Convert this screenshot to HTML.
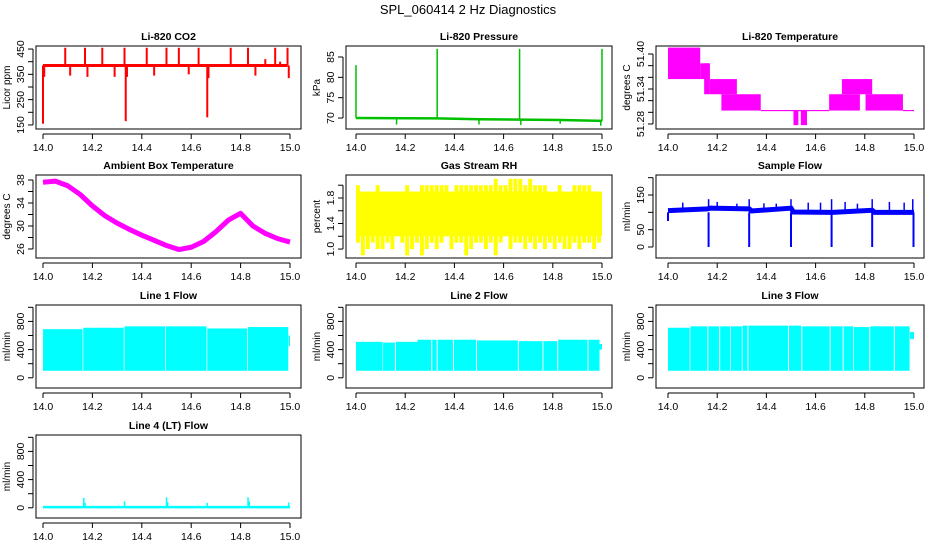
<!DOCTYPE html>
<html><head><meta charset="utf-8"><style>
html,body{margin:0;padding:0;background:#fff}
svg{display:block;font-family:"Liberation Sans",sans-serif}
</style></head><body>
<svg id="chart" width="936" height="540" viewBox="0 0 936 540" xmlns="http://www.w3.org/2000/svg">
<rect width="936" height="540" fill="#fff"/>
<text x="468" y="14" text-anchor="middle" font-size="13">SPL_060414  2 Hz Diagnostics</text>
</svg>
<script>
// ---------- data ----------
const xTicks = [14.0,14.2,14.4,14.6,14.8,15.0];
const xTickLabels = ["14.0","14.2","14.4","14.6","14.8","15.0"];
// CO2
const co2Base = 385;
const co2SpikeX = [14.0,14.005,14.09,14.11,14.17,14.18,14.24,14.29,14.33,14.335,14.34,14.42,14.45,14.5,14.55,14.59,14.63,14.665,14.67,14.76,14.83,14.86,14.9,14.94,14.96,14.99,14.995];
const co2SpikeY = [155,340,455,345,455,340,455,340,455,165,340,455,345,455,455,350,455,180,335,455,455,345,410,455,400,455,335];
// Pressure
const presBaseX = [14.0,14.33,14.5,14.67,14.83,15.0];
const presBaseY = [70.0,69.9,69.7,69.6,69.5,69.3];
const presSpikeX = [14.0,14.165,14.33,14.5,14.665,14.67,14.83,14.995,15.0];
const presSpikeY = [83,68.4,87,68.4,87,68.3,68.6,68.1,87];
// Li-820 temperature blocks
const tStart = [14.0,14.131,14.147,14.17,14.217,14.377,14.51,14.54,14.655,14.707,14.803,14.955];
const tEnd   = [14.131,14.17,14.17,14.28,14.377,14.655,14.53,14.565,14.78,14.83,14.955,15.0];
const tLo    = [51.357,51.357,51.331,51.331,51.303,51.302,51.278,51.278,51.303,51.331,51.303,51.302];
const tHi    = [51.411,51.384,51.384,51.357,51.331,51.304,51.304,51.304,51.331,51.357,51.331,51.304];
// Ambient box temperature
const ambX = [14.0,14.05,14.1,14.15,14.2,14.25,14.3,14.35,14.4,14.45,14.5,14.55,14.6,14.65,14.7,14.75,14.8,14.85,14.9,14.95,15.0];
const ambY = [37.6,37.8,37.0,35.5,33.5,31.8,30.5,29.4,28.4,27.5,26.6,25.9,26.3,27.3,29.0,31.0,32.2,30.0,28.7,27.8,27.2];
// Gas stream RH (binned min/max)
const rhLo = [1.1,0.9,1.0,1.1,1.0,1.0,1.1,1.0,1.2,1.1,0.9,1.0,1.1,0.9,1.0,1.1,1.0,1.1,1.2,1.0,1.1,1.1,0.9,1.0,1.1,1.1,1.0,1.1,0.9,1.1,1.2,1.0,1.1,1.1,1.0,1.1,1.0,1.1,1.0,1.1,1.0,1.1,1.0,1.0,1.1,1.0,1.1,1.1,1.0,1.1];
const rhHi = [2.0,1.9,1.9,1.9,2.0,1.9,1.9,1.9,1.9,1.9,2.0,1.9,1.9,2.0,2.0,2.0,2.0,2.0,2.0,1.9,2.0,2.0,2.0,2.0,2.0,2.0,2.0,2.0,2.1,2.0,2.0,2.1,2.1,2.1,2.0,2.1,2.0,2.0,2.0,1.9,1.9,2.0,1.9,1.9,2.0,2.0,2.0,2.0,1.9,1.9];
// Sample flow
const sfX = [14.0,14.16,14.17,14.33,14.34,14.5,14.51,14.66,14.67,14.83,14.84,15.0];
const sfY = [105,110,112,110,104,112,101,100,100,106,100,100];
const sfDropX = [14.0,14.165,14.33,14.5,14.665,14.83,14.998];
const sfDropY = [75,0,0,0,0,0,0];
const sfSpikeX = [14.06,14.165,14.2,14.28,14.33,14.39,14.44,14.5,14.57,14.62,14.665,14.72,14.77,14.83,14.9,14.96,14.995];
const sfSpikeY = [128,138,130,125,138,126,125,138,128,128,138,130,125,138,130,128,138];
// Line flows: blocks
const l1Start = [14.0,14.163,14.33,14.497,14.665,14.83,14.995];
const l1End   = [14.16,14.327,14.494,14.662,14.827,14.993,15.0];
const l1Lo    = [100,100,100,100,100,100,450];
const l1Hi    = [690,710,730,730,700,720,600];
const l2Start = [14.0,14.11,14.162,14.25,14.31,14.332,14.398,14.492,14.662,14.762,14.822,14.945,14.99];
const l2End   = [14.108,14.158,14.25,14.306,14.328,14.394,14.488,14.658,14.758,14.818,14.941,14.99,15.0];
const l2Lo    = [100,100,100,100,100,100,100,100,100,100,100,100,400];
const l2Hi    = [510,500,510,540,540,540,540,530,520,520,540,540,480];
const l3Start = [14.0,14.091,14.164,14.212,14.255,14.303,14.327,14.492,14.546,14.661,14.714,14.755,14.822,14.922,14.984];
const l3End   = [14.088,14.16,14.208,14.252,14.3,14.323,14.488,14.542,14.657,14.71,14.752,14.818,14.918,14.982,15.0];
const l3Lo    = [100,100,100,100,100,100,100,100,100,100,100,100,100,100,550];
const l3Hi    = [710,730,730,730,730,740,740,740,730,730,730,720,730,730,650];
const l4SpikeX = [14.165,14.17,14.33,14.5,14.505,14.665,14.83,14.835,14.995];
const l4SpikeY = [140,70,90,150,80,70,150,90,75];
const l4Base = 10;

// ---------- drawing ----------
const svg = document.getElementById('chart');
const NS = 'http://www.w3.org/2000/svg';
function mk(tag, attrs, parent){
  const e = document.createElementNS(NS, tag);
  for (const k in attrs) e.setAttribute(k, attrs[k]);
  (parent||svg).appendChild(e);
  return e;
}
const colBox = [[36,301,43,290],[346,612,356,602],[656,924,668,914]];
const rowTop = [46,175,305,435];
const BH = 83;

function panel(col,row,title,ylab,yMin,yMax,yTicks,yLabels,name){
  const [bl,br,x0,x1] = colBox[col];
  const top = rowTop[row], bot = top+BH;
  const g = mk('g',{});
  
  
  const X = v => x0 + (v-14)/(1)*(x1-x0);
  const Y = v => bot - (v-yMin)/(yMax-yMin)*BH;
  const data = mk('g',{},g);
  
  
  const box = mk('rect',{x:bl,y:top,width:br-bl,height:BH,fill:'none',stroke:'#000','stroke-width':1},g);
  
  
  const t = mk('text',{x:(bl+br)/2,y:top-6,'text-anchor':'middle','font-size':10.5,'font-weight':'bold'},g);
  t.textContent = title;
  
  
  const xa = mk('g',{},g);
  
  
  const ay = bot+5;
  mk('line',{x1:X(xTicks[0]),x2:X(xTicks[xTicks.length-1]),y1:ay,y2:ay,stroke:'#000'},xa);
  xTicks.forEach((v,i)=>{
    mk('line',{x1:X(v),x2:X(v),y1:ay,y2:ay+5,stroke:'#000'},xa);
    const tx = mk('text',{x:X(v),y:bot+22,'text-anchor':'middle','font-size':10.5},xa);
    tx.textContent = xTickLabels[i];
    
    
  });
  const ya = mk('g',{},g);
  
  
  const ax = bl-3;
  mk('line',{x1:ax,x2:ax,y1:Y(yTicks[0]),y2:Y(yTicks[yTicks.length-1]),stroke:'#000'},ya);
  yTicks.forEach(v=>{
    mk('line',{x1:ax-5,x2:ax,y1:Y(v),y2:Y(v),stroke:'#000'},ya);
  });
  yLabels.forEach(v=>{
    const tx = mk('text',{x:0,y:0,'text-anchor':'middle','font-size':10.5,transform:`translate(${ax-9},${Y(v)}) rotate(-90)`},ya);
    tx.textContent = String(v);
    
    
  });
  const yl = mk('text',{x:0,y:0,'text-anchor':'middle','font-size':10,transform:`translate(${ax-23},${(top+bot)/2}) rotate(-90)`},g);
  yl.textContent = ylab;
  
  
  return {X,Y,data};
}
function vline(p,x,y1,y2,color,w){
  const l = mk('line',{x1:p.X(x),x2:p.X(x),y1:p.Y(y1),y2:p.Y(y2),stroke:color,'stroke-width':w||1},p.data);
  
  
}
function blocks(p,s,e,lo,hi,color,nm){
  s.forEach((v,i)=>{
    const x1=p.X(v), x2=p.X(e[i]);
    const r = mk('rect',{x:x1,y:p.Y(hi[i]),width:Math.max(1,x2-x1),height:p.Y(lo[i])-p.Y(hi[i]),fill:color},p.data);
    
    
  });
}

// CO2
let p = panel(0,0,'Li-820 CO2','Licor ppm',134,462,[150,200,250,300,350,400,450],[150,250,350,450],'co2');
co2SpikeX.forEach((x,i)=>vline(p,x,co2Base,co2SpikeY[i],'#ff0000',2));
{const l=mk('line',{x1:p.X(14.0),x2:p.X(14.99),y1:p.Y(co2Base),y2:p.Y(co2Base),stroke:'#ff0000','stroke-width':3},p.data);

}

// Pressure
p = panel(1,0,'Li-820 Pressure','kPa',67.3,87.7,[70,75,80,85],[70,75,80,85],'pressure');
{const l=mk('polyline',{points:presBaseX.map((x,i)=>p.X(x)+','+p.Y(presBaseY[i])).join(' '),fill:'none',stroke:'#00c000','stroke-width':2.5},p.data);

}
presSpikeX.forEach((x,i)=>{
  const bi = presBaseX.findIndex(b=>b>=x); const base = presBaseY[Math.max(0,bi)];
  vline(p,x,base,presSpikeY[i],'#00c000',1.5);
});

// Li-820 temperature
p = panel(2,0,'Li-820 Temperature','degrees C',51.2714,51.4137,[51.28,51.30,51.32,51.34,51.36,51.38,51.40],[51.28,51.34,51.40].map(v=>v.toFixed(2)),'li820-temp');
blocks(p,tStart,tEnd,tLo,tHi,'#ff00ff','temp-block');

// Ambient
p = panel(0,1,'Ambient Box Temperature','degrees C',24.43,38.87,[26,28,30,32,34,36,38],[26,30,34,38],'ambient');
{const l=mk('polyline',{points:ambX.map((x,i)=>p.X(x)+','+p.Y(ambY[i])).join(' '),fill:'none',stroke:'#ff00ff','stroke-width':5,'stroke-linejoin':'round'},p.data);

}

// RH
p = panel(1,1,'Gas Stream RH','percent',0.86,2.16,[1.0,1.2,1.4,1.6,1.8,2.0],['1.0','1.4','1.8'],'rh');
{
  const n = rhLo.length;
  rhLo.forEach((lo,i)=>{
    const xa = 14 + i/n, xb = 14 + (i+1)/n;
    const r = mk('rect',{x:p.X(xa),y:p.Y(rhHi[i]),width:(p.X(xb)-p.X(xa))*0.8,height:p.Y(lo)-p.Y(rhHi[i]),fill:'#ffff00'},p.data);
    
    
  });
  const core = mk('rect',{x:p.X(14),y:p.Y(1.9),width:p.X(15)-p.X(14),height:p.Y(1.2)-p.Y(1.9),fill:'#ffff00'},p.data);
  
  
}

// Sample flow
p = panel(2,1,'Sample Flow','ml/min',-31.7,207.7,[0,50,100,150,200],[0,50,150],'sample-flow');
{const l=mk('polyline',{points:sfX.map((x,i)=>p.X(x)+','+p.Y(sfY[i])).join(' '),fill:'none',stroke:'#0000ff','stroke-width':5},p.data);

}
sfDropX.forEach((x,i)=>vline(p,x,100,sfDropY[i],'#0000ff',2));
sfSpikeX.forEach((x,i)=>vline(p,x,105,sfSpikeY[i],'#0000ff',1.5));

// Line flows
const fTicks=[0,200,400,600,800,1000], fLabels=[0,400,800];
p = panel(0,2,'Line 1 Flow','ml/min',-145,1033,fTicks,fLabels,'line1-flow');
blocks(p,l1Start,l1End,l1Lo,l1Hi,'#00ffff','flow-block');
p = panel(1,2,'Line 2 Flow','ml/min',-145,1033,fTicks,fLabels,'line2-flow');
blocks(p,l2Start,l2End,l2Lo,l2Hi,'#00ffff','flow-block');
p = panel(2,2,'Line 3 Flow','ml/min',-145,1033,fTicks,fLabels,'line3-flow');
blocks(p,l3Start,l3End,l3Lo,l3Hi,'#00ffff','flow-block');
p = panel(0,3,'Line 4 (LT) Flow','ml/min',-145,1033,fTicks,fLabels,'line4-flow');
{const l=mk('line',{x1:p.X(14.0),x2:p.X(15.0),y1:p.Y(l4Base),y2:p.Y(l4Base),stroke:'#00ffff','stroke-width':2.5},p.data);

}
l4SpikeX.forEach((x,i)=>vline(p,x,l4Base,l4SpikeY[i],'#00ffff',1.5));
</script>
</body></html>
